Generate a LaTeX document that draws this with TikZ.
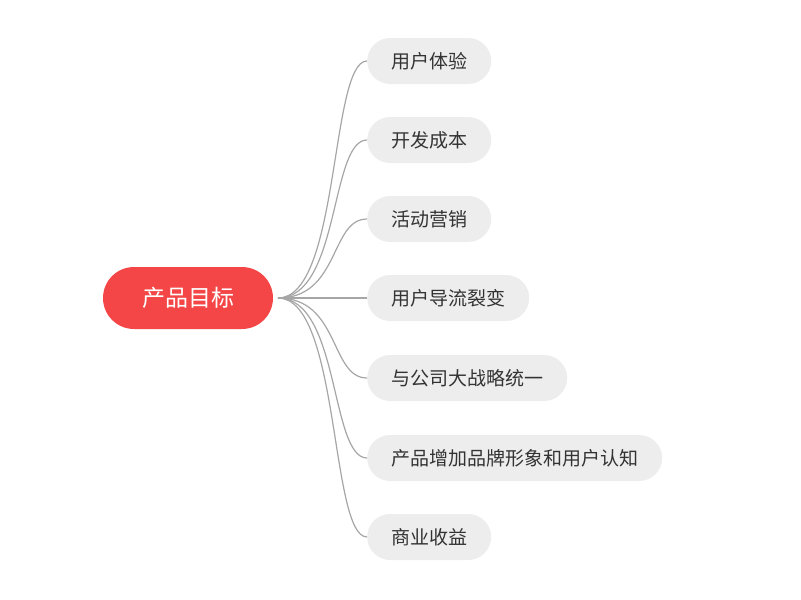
\documentclass[tikz,border=0pt]{standalone}
\usepackage{fontspec}
\setmainfont{Noto Sans CJK SC}
\begin{document}
\begin{tikzpicture}[x=1pt,y=-1pt,
  child/.style={fill=black!7,rounded corners=23pt,minimum height=46pt,anchor=west,inner xsep=24pt,font=\fontsize{19}{22}\selectfont,text=black!80},
  conn/.style={draw=black!35,line width=1.2pt}]
\useasboundingbox (0,0) rectangle (801,600);
\node[fill=red!75!white,fill={rgb,255:red,244;green,70;blue,70},rounded corners=31pt,minimum width=170pt,minimum height=62pt,text=white,font=\fontsize{23}{26}\selectfont] (root) at (188,298) {产品目标};
\coordinate (o) at (278,298);
\foreach \n/\y/\t in {a/61/用户体验,b/140/开发成本,c/219/活动营销,d/298/用户导流裂变,e/378/与公司大战略统一,f/458/产品增加品牌形象和用户认知,g/537/商业收益}{
  \node[child] (\n) at (367,\y) {\t};
  \draw[conn] (o) .. controls (340,298) and (330,\y) .. (\n.west);
}
\end{tikzpicture}
\end{document}
